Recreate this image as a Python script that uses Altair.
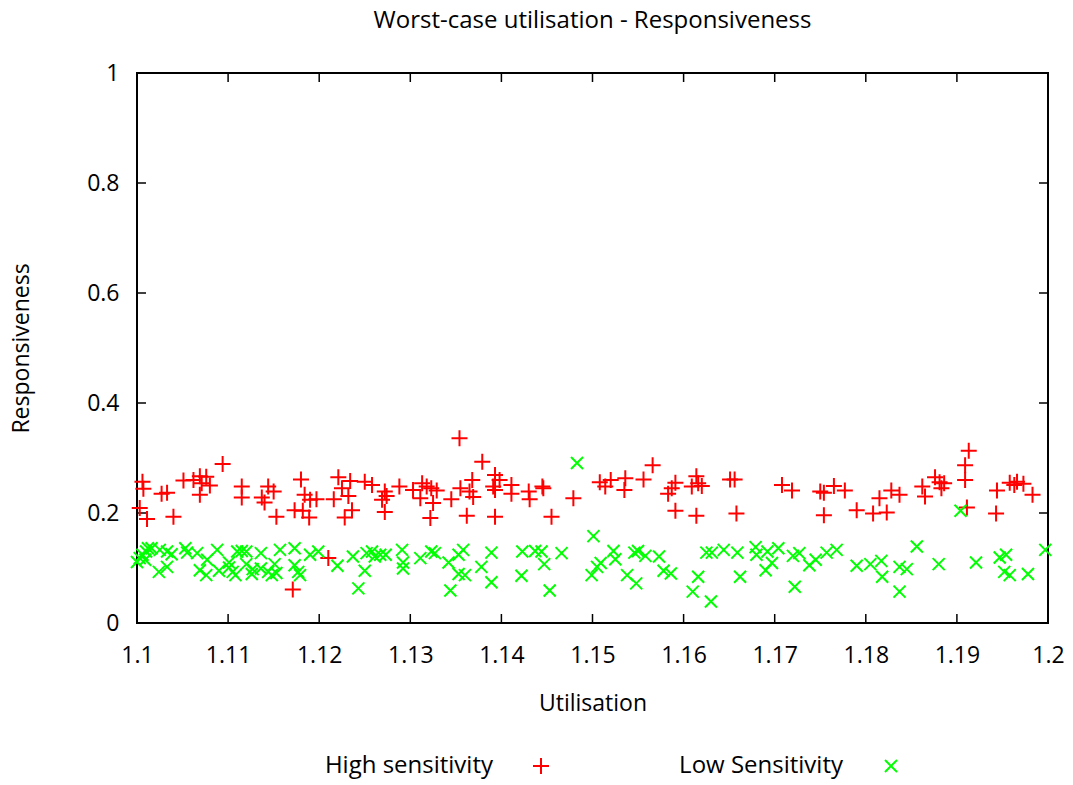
import altair as alt
import pandas as pd

# High sensitivity series
hi_x = [1.1094, 1.1006, 1.1007, 1.1003, 1.1011, 1.1027, 1.1033, 1.1040, 1.1051, 1.1062,
        1.1069, 1.1076, 1.1071, 1.1080, 1.1069, 1.1115, 1.1115, 1.1144, 1.1150, 1.1137,
        1.1140, 1.1153, 1.1180, 1.1184, 1.1190, 1.1173, 1.1182, 1.1189, 1.1171, 1.1197,
        1.1354, 1.1379, 1.1221, 1.1234, 1.1225, 1.1232, 1.1250, 1.1258, 1.1216, 1.1236,
        1.1228, 1.1272, 1.1269, 1.1274, 1.1272, 1.1288, 1.1303, 1.1313, 1.1318, 1.1323,
        1.1329, 1.1311, 1.1325, 1.1322, 1.1345, 1.1355, 1.1368, 1.1365, 1.1369, 1.1362,
        1.1210, 1.1566, 1.1393, 1.1398, 1.1391, 1.1393, 1.1411, 1.1411, 1.1430, 1.1431,
        1.1445, 1.1446, 1.1393, 1.1455, 1.1479, 1.1508, 1.1514, 1.1520, 1.1536, 1.1535,
        1.1556, 1.1591, 1.1587, 1.1583, 1.1591, 1.1614, 1.1609, 1.1616, 1.1620, 1.1614,
        1.1651, 1.1656, 1.1658, 1.1708, 1.1719, 1.1750, 1.1754, 1.1765, 1.1777, 1.1754,
        1.1790, 1.1913, 1.1909, 1.1909, 1.1911, 1.1808, 1.1815, 1.1823, 1.1828, 1.1837,
        1.1862, 1.1865, 1.1876, 1.1881, 1.1886, 1.1883, 1.1944, 1.1943, 1.1958, 1.1963,
        1.1966, 1.1973, 1.1983]
hi_y = [0.289, 0.257, 0.244, 0.209, 0.189, 0.235, 0.237, 0.193, 0.259, 0.260,
        0.267, 0.266, 0.254, 0.250, 0.233, 0.248, 0.228, 0.248, 0.239, 0.228,
        0.219, 0.193, 0.261, 0.233, 0.224, 0.205, 0.204, 0.192, 0.061, 0.225,
        0.336, 0.293, 0.265, 0.258, 0.245, 0.231, 0.257, 0.251, 0.225, 0.205,
        0.192, 0.239, 0.224, 0.231, 0.202, 0.248, 0.242, 0.254, 0.248, 0.245,
        0.241, 0.227, 0.218, 0.191, 0.225, 0.245, 0.260, 0.239, 0.229, 0.195,
        0.118, 0.287, 0.269, 0.260, 0.248, 0.242, 0.251, 0.235, 0.239, 0.225,
        0.248, 0.245, 0.193, 0.193, 0.227, 0.256, 0.248, 0.260, 0.263, 0.242,
        0.261, 0.255, 0.245, 0.235, 0.204, 0.267, 0.248, 0.254, 0.249, 0.195,
        0.261, 0.261, 0.199, 0.251, 0.241, 0.239, 0.237, 0.249, 0.241, 0.196,
        0.205, 0.313, 0.287, 0.260, 0.210, 0.199, 0.227, 0.201, 0.241, 0.233,
        0.248, 0.230, 0.265, 0.256, 0.254, 0.245, 0.241, 0.199, 0.255, 0.251,
        0.257, 0.253, 0.233]

# Low sensitivity series
lo_x = [1.1000, 1.1003, 1.1006, 1.1010, 1.1012, 1.1016, 1.1009, 1.1025, 1.1033, 1.1038,
        1.1053, 1.1055, 1.1066, 1.1077, 1.1088, 1.1069, 1.1076, 1.1090, 1.1101, 1.1101,
        1.1105, 1.1108, 1.1110, 1.1115, 1.1120, 1.1120, 1.1127, 1.1126, 1.1136, 1.1136,
        1.1144, 1.1148, 1.1151, 1.1157, 1.1153, 1.1173, 1.1173, 1.1177, 1.1179, 1.1190,
        1.1199, 1.1024, 1.1033,
        1.1220, 1.1237, 1.1250, 1.1243, 1.1252, 1.1258, 1.1261, 1.1267, 1.1273, 1.1291,
        1.1292, 1.1292, 1.1311, 1.1323, 1.1327, 1.1342, 1.1353, 1.1358, 1.1353, 1.1360,
        1.1344, 1.1378, 1.1389, 1.1389,
        1.1483, 1.1501, 1.1423, 1.1437, 1.1444, 1.1447, 1.1466, 1.1422, 1.1453, 1.1499,
        1.1505, 1.1509, 1.1523, 1.1525, 1.1538, 1.1548, 1.1546, 1.1550, 1.1558, 1.1573,
        1.1578, 1.1586,
        1.1625, 1.1631, 1.1644, 1.1659, 1.1679, 1.1680, 1.1692, 1.1704, 1.1697, 1.1690,
        1.1720, 1.1727, 1.1738, 1.1745, 1.1757, 1.1768, 1.1790, 1.1616, 1.1610, 1.1630,
        1.1662, 1.1722,
        1.1904, 1.1805, 1.1817, 1.1818, 1.1837, 1.1845, 1.1837, 1.1856, 1.1880, 1.1921,
        1.1947, 1.1954, 1.1952, 1.1958, 1.1978, 1.1997]
lo_y = [0.111, 0.118, 0.124, 0.130, 0.136, 0.136, 0.115, 0.133, 0.130, 0.125,
        0.136, 0.128, 0.127, 0.115, 0.133, 0.096, 0.087, 0.095, 0.110, 0.101,
        0.093, 0.087, 0.130, 0.131, 0.130, 0.107, 0.098, 0.089, 0.127, 0.099,
        0.093, 0.087, 0.107, 0.133, 0.091, 0.136, 0.105, 0.093, 0.087, 0.124,
        0.130, 0.093, 0.102,
        0.104, 0.121, 0.095, 0.063, 0.127, 0.130, 0.121, 0.124, 0.124, 0.133,
        0.110, 0.099, 0.118, 0.130, 0.127, 0.110, 0.124, 0.133, 0.089, 0.087,
        0.059, 0.102, 0.128, 0.074,
        0.291, 0.158, 0.130, 0.131, 0.130, 0.107, 0.127, 0.086, 0.059, 0.087,
        0.102, 0.109, 0.131, 0.116, 0.087, 0.072, 0.128, 0.131, 0.122, 0.121,
        0.095, 0.090,
        0.128, 0.128, 0.133, 0.128, 0.138, 0.124, 0.130, 0.136, 0.109, 0.096,
        0.122, 0.127, 0.105, 0.115, 0.128, 0.133, 0.104, 0.084, 0.057, 0.039,
        0.084, 0.066,
        0.204, 0.107, 0.113, 0.084, 0.102, 0.098, 0.057, 0.139, 0.107, 0.110,
        0.119, 0.124, 0.093, 0.087, 0.089, 0.133]

x_ticks = [1.1, 1.11, 1.12, 1.13, 1.14, 1.15, 1.16, 1.17, 1.18, 1.19, 1.2]
y_ticks = [0, 0.2, 0.4, 0.6, 0.8, 1]

series_names = ["High sensitivity", "Low Sensitivity"]
series_colors = ["#ff0000", "#00ff00"]

FONT = "Open Sans"
W, H = 911, 550
TICK = 9
PLUS = "M-1,0L1,0M0,-1L0,1"
CROSS = "M-1,-1L1,1M-1,1L1,-1"

hi_df = pd.DataFrame({"x": hi_x, "y": hi_y, "s": series_names[0]})
lo_df = pd.DataFrame({"x": lo_x, "y": lo_y, "s": series_names[1]})
xt_df = pd.DataFrame({"x": x_ticks})
yt_df = pd.DataFrame({"y": y_ticks})

xscale = alt.Scale(domain=[1.1, 1.2], nice=False, zero=False)
yscale = alt.Scale(domain=[0, 1], nice=False)
xaxis = alt.Axis(values=x_ticks, format="~g", title="Utilisation", grid=False,
                 domain=False, ticks=False, labelPadding=21, titlePadding=25,
                 labelFlush=False, labelFont=FONT, labelFontSize=23, labelColor="black",
                 titleFont=FONT, titleFontSize=23, titleColor="black",
                 titleFontWeight="normal")
yaxis = alt.Axis(values=y_ticks, format="~g", title="Responsiveness", grid=False,
                 domain=False, ticks=False, labelPadding=18, titlePadding=53,
                 labelFont=FONT, labelFontSize=23, labelColor="black",
                 titleFont=FONT, titleFontSize=23, titleColor="black",
                 titleFontWeight="normal")

X = alt.X("x:Q", scale=xscale, axis=xaxis)
Y = alt.Y("y:Q", scale=yscale, axis=yaxis)


def legend(sym, size, lx):
    return alt.Legend(title=None, orient="none", legendX=lx, legendY=681,
                      symbolType=sym, symbolSize=size, symbolStrokeWidth=2,
                      labelAlign="right", labelOffset={"expr": "-60"}, labelFont=FONT,
                      labelFontSize=24, labelColor="black", labelLimit=0,
                      padding=0)


hi = alt.Chart(hi_df).mark_point(shape=PLUS, filled=False, strokeWidth=2,
                                  size=256, opacity=1).encode(
    x=X, y=Y,
    color=alt.Color("s:N", scale=alt.Scale(domain=[series_names[0]], range=[series_colors[0]]),
                    legend=legend(PLUS, 256, 392)))

lo = alt.Chart(lo_df).mark_point(shape=CROSS, filled=False, strokeWidth=2,
                                  size=144, opacity=1).encode(
    x=X, y=Y,
    color=alt.Color("s:N", scale=alt.Scale(domain=[series_names[1]], range=[series_colors[1]]),
                    legend=legend(CROSS, 144, 742)))

tick_style = dict(color="black", strokeWidth=1.5)
bottom_ticks = alt.Chart(xt_df).mark_rule(**tick_style).encode(
    x=X, y=alt.value(H), y2=alt.value(H - TICK))
top_ticks = alt.Chart(xt_df).mark_rule(**tick_style).encode(
    x=X, y=alt.value(0), y2=alt.value(TICK))
left_ticks = alt.Chart(yt_df).mark_rule(**tick_style).encode(
    y=Y, x=alt.value(0), x2=alt.value(TICK))
right_ticks = alt.Chart(yt_df).mark_rule(**tick_style).encode(
    y=Y, x=alt.value(W), x2=alt.value(W - TICK))

chart = alt.layer(bottom_ticks, top_ticks, left_ticks, right_ticks, hi, lo).resolve_scale(
    color="independent"
).properties(
    width=W, height=H,
    title=alt.TitleParams("Worst-case utilisation - Responsiveness", font=FONT,
                          fontSize=24, fontWeight="normal", color="black",
                          anchor="middle", offset=29),
    autosize=alt.AutoSizeParams(type="none"),
    padding={"left": 137, "top": 73, "right": 25, "bottom": 162},
    background="white",
).configure_view(
    stroke="black", strokeWidth=2
)

chart.save("out.html", embed_options={"renderer": "svg", "actions": False})
